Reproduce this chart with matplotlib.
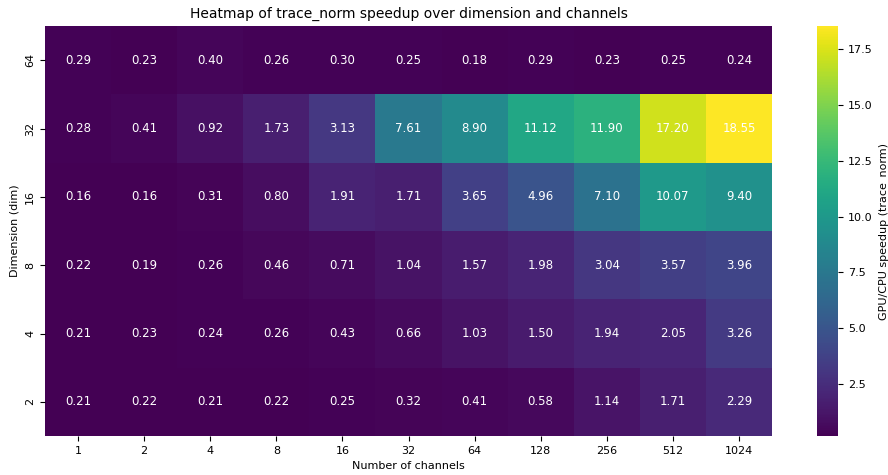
import matplotlib
matplotlib.use('Agg')
import matplotlib.pyplot as plt
import pandas as pd
import seaborn as sns

channels = [1, 2, 4, 8, 16, 32, 64, 128, 256, 512, 1024]
dims = [64, 32, 16, 8, 4, 2]

# speedup GPU/CPU, righe dall'alto (dim=64) al basso (dim=2)
speed_64 = [0.29, 0.23, 0.40, 0.26, 0.30, 0.25, 0.18, 0.29, 0.23, 0.25, 0.24]
speed_32 = [0.28, 0.41, 0.92, 1.73, 3.13, 7.61, 8.90, 11.12, 11.90, 17.20, 18.55]
speed_16 = [0.16, 0.16, 0.31, 0.80, 1.91, 1.71, 3.65, 4.96, 7.10, 10.07, 9.40]
speed_8 = [0.22, 0.19, 0.26, 0.46, 0.71, 1.04, 1.57, 1.98, 3.04, 3.57, 3.96]
speed_4 = [0.21, 0.23, 0.24, 0.26, 0.43, 0.66, 1.03, 1.50, 1.94, 2.05, 3.26]
speed_2 = [0.21, 0.22, 0.21, 0.22, 0.25, 0.32, 0.41, 0.58, 1.14, 1.71, 2.29]

df = pd.DataFrame([speed_64, speed_32, speed_16, speed_8, speed_4, speed_2],
                  index=dims, columns=channels)

W, H = 888, 475
fig = plt.figure(figsize=(W / 100, H / 100), dpi=100)
ax = fig.add_axes([45 / W, 39 / H, (772 - 45) / W, (436 - 26) / H])
cax = fig.add_axes([817 / W, 39 / H, 21 / W, (436 - 26) / H])

sns.heatmap(df, ax=ax, cbar_ax=cax, cmap="viridis", annot=True, fmt=".2f",
            annot_kws={"color": "white", "fontsize": 8.5})
cax.set_ylabel("GPU/CPU speedup (trace_norm)", fontsize=8)
cax.tick_params(labelsize=8)
ax.tick_params(labelsize=8)
ax.set_xlabel("Number of channels", fontsize=8)
ax.set_ylabel("Dimension (dim)", fontsize=8)
ax.set_title("Heatmap of trace_norm speedup over dimension and channels", fontsize=10)

plt.savefig("out.png", dpi=100)
plt.close()
